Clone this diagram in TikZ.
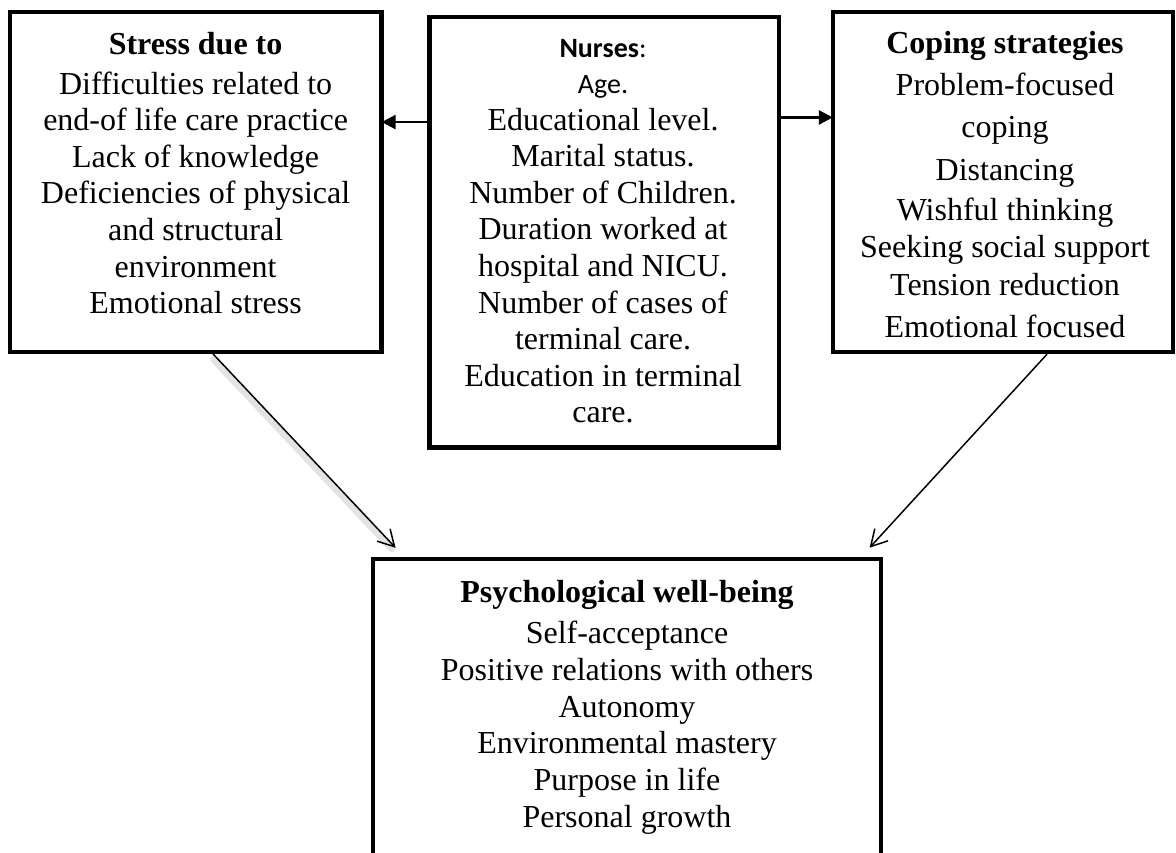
\documentclass[tikz,border=0pt]{standalone}
\usepackage{fontspec}
\setmainfont{Liberation Serif}
\newfontfamily\calibfont{Carlito}
\usetikzlibrary{arrows.meta,calc}

\begin{document}
\begin{tikzpicture}[x=0.5pt,y=-0.5pt,
  box/.style={draw=black, line width=2.2pt, rectangle, inner sep=0pt},
  txt/.style={anchor=base, inner sep=0pt, font=\fontsize{16}{18.3}\selectfont},
  ttl/.style={txt, font=\fontsize{16}{18.3}\selectfont\bfseries},
  sans/.style={txt, font=\fontsize{14}{17}\selectfont\calibfont},
  link/.style={line width=1.3pt, -{Triangle[length=7pt,width=7pt]}},
  flow/.style={line width=0.75pt, -{Straight Barb[length=8pt,width=9pt]}},
  haze/.style={line width=3pt, black!11, line cap=round},
]
\clip (0,0) rectangle (1176,852);
\fill[white] (0,0) rectangle (1176,852);

% boxes
\node[box, minimum width=185.9pt, minimum height=170pt]    (stress) at (195.6,181.7) {};
\node[box, minimum width=174.6pt, minimum height=215.25pt] (nurse)  at (604.1,232.25) {};
\node[box, minimum width=170pt,   minimum height=170.15pt] (cope)   at (1003,181.85) {};
\node[box, minimum width=254pt,   minimum height=170.65pt] (wb)     at (626.8,729.35) {};

% stress box text
\node[ttl] (stress-t) at (195.6,54) {Stress due to};
\foreach \y/\t [count=\k] in {94/Difficulties related to,
    130.6/end-of life care practice,
    167.2/Lack of knowledge,
    203.8/Deficiencies of physical,
    240.4/and structural,
    277/environment,
    313.6/Emotional stress}
  \node[txt] (stress-\k) at (195.6,\y) {\t};

% nurses box text
\node[sans] (nurse-t) at (603,57) {\textbf{Nurses}:};
\node[sans] (nurse-a) at (603,93) {Age.};
\foreach \y/\t [count=\k] in {130/Educational level.,
    166.6/Marital status.,
    203.2/Number of Children.,
    239.8/Duration worked at,
    276.4/hospital and NICU.,
    313/Number of cases of,
    349.6/terminal care.,
    386.2/Education in terminal,
    422.8/care.}
  \node[txt] (nurse-\k) at (603,\y) {\t};

% coping box text
\node[ttl] (cope-t) at (1005,53) {Coping strategies};
\foreach \y/\t [count=\k] in {95/Problem-focused,
    137/coping,
    180/Distancing,
    220/Wishful thinking,
    257/Seeking social support,
    295/Tension reduction,
    337/Emotional focused}
  \node[txt] (cope-\k) at (1005,\y) {\t};

% well-being box text
\node[ttl] (wb-t) at (627,602) {Psychological well-being};
\foreach \y/\t [count=\k] in {643/Self-acceptance,
    680/Positive relations with others,
    717/Autonomy,
    753/Environmental mastery,
    790/Purpose in life,
    827/Personal growth}
  \node[txt] (wb-\k) at (627,\y) {\t};

% connectors between the upper boxes
\draw[link, shorten >=-1pt] ([yshift=55.1pt]nurse.west) -- ([yshift=55.1pt]nurse.west -| stress.east);
\draw[link, shorten >=-1pt] ([yshift=57.4pt]nurse.east) -- ([yshift=57.4pt]nurse.east -| cope.west);

% connectors into the well-being box
\draw[haze, shorten >=7pt, shorten <=2pt]
  ([xshift=7.5pt,yshift=-1.5pt]stress.south) -- ([xshift=15.4pt,yshift=-1.5pt]wb.north west);
\draw[flow, shorten >=6pt] ([xshift=8.7pt]stress.south) -- ([xshift=16.6pt]wb.north west);
\draw[flow, shorten >=6pt] ([xshift=22pt]cope.south) -- ([xshift=-10.75pt]wb.north east);
\end{tikzpicture}
\end{document}
